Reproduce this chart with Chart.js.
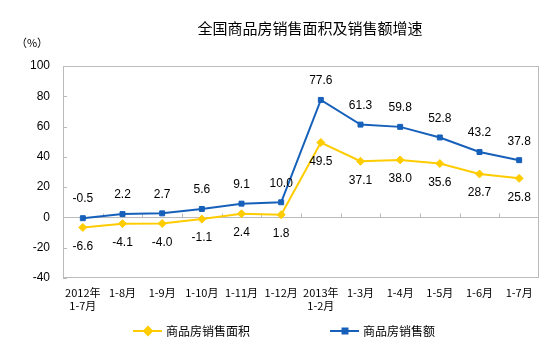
<!DOCTYPE html>
<html>
<head>
<meta charset="utf-8">
<script src="https://cdn.jsdelivr.net/npm/chart.js@4.4.0/dist/chart.umd.min.js"></script>
<style>
  html, body { margin: 0; padding: 0; background: #fff; }
  #wrap { width: 560px; height: 352px; }
</style>
</head>
<body>
<div id="wrap"><canvas id="salesChart"></canvas></div>
<script>
const categories = [["2012年", "1-7月"], "1-8月", "1-9月", "1-10月", "1-11月", "1-12月",
    ["2013年", "1-2月"], "1-3月", "1-4月", "1-5月", "1-6月", "1-7月"];
const areaGrowth = [-6.6, -4.1, -4.0, -1.1, 2.4, 1.8, 49.5, 37.1, 38.0, 35.6, 28.7, 25.8];
const salesGrowth = [-0.5, 2.2, 2.7, 5.6, 9.1, 10.0, 77.6, 61.3, 59.8, 52.8, 43.2, 37.8];
const yTicks = [-40, -20, 0, 20, 40, 60, 80, 100];
const seriesNames = ["商品房销售面积", "商品房销售额"];

const YELLOW = "#FFCC00";
const BLUE = "#1660BA";
const GREY = "#BBBBBB";
const CJK = '"Noto Sans CJK SC", sans-serif';
const NUM = '"Liberation Sans", Arial, sans-serif';

// point labels, title, box and legend
const decorations = {
    id: "decorations",
    beforeDatasetsDraw(chart) {
        const ctx = chart.ctx;
        const area = chart.chartArea;
        const x = chart.scales.x;
        const y = chart.scales.y;
        ctx.save();
        ctx.strokeStyle = GREY;
        ctx.lineWidth = 1;
        ctx.strokeRect(Math.round(area.left) + 0.5, Math.round(area.top) + 0.5,
            Math.round(area.width) - 1, Math.round(area.height) - 1);
        // zero line with ticks at category boundaries
        const zy = Math.round(y.getPixelForValue(0)) + 0.5;
        ctx.beginPath();
        ctx.moveTo(area.left, zy);
        ctx.lineTo(area.right, zy);
        for (let i = 0; i < categories.length; i++) {
            const tx = Math.round(x.getPixelForValue(i - 0.5)) + 0.5;
            ctx.moveTo(tx, zy);
            ctx.lineTo(tx, zy - 4);
        }
        // small inside ticks on the value axis
        yTicks.forEach(v => {
            const ty = Math.round(y.getPixelForValue(v)) + 0.5;
            ctx.moveTo(area.left, ty);
            ctx.lineTo(area.left + 4, ty);
        });
        ctx.stroke();
        ctx.restore();
    },
    afterDatasetsDraw(chart) {
        const ctx = chart.ctx;
        ctx.save();
        ctx.font = "12px " + NUM;
        ctx.fillStyle = "#000";
        ctx.textAlign = "center";
        ctx.textBaseline = "middle";
        chart.data.datasets.forEach((ds, di) => {
            const meta = chart.getDatasetMeta(di);
            meta.data.forEach((pt, i) => {
                const off = di === 1 ? -19 : 19;
                ctx.fillText(ds.data[i].toFixed(1), pt.x, pt.y + off);
            });
        });

        // title and unit
        ctx.font = "15px " + CJK;
        ctx.fillText("全国商品房销售面积及销售额增速", 310, 28);
        ctx.font = "11px " + CJK;
        ctx.fillText("（%）", 32, 43);

        // legend
        const items = [
            { x: 133, color: YELLOW, style: "rectRot", r: 4 },
            { x: 330, color: BLUE, style: "rect", r: 3.5 }
        ];
        ctx.font = "12px " + CJK;
        ctx.textAlign = "left";
        items.forEach((it, i) => {
            const ly = 331;
            ctx.strokeStyle = it.color;
            ctx.lineWidth = 2;
            ctx.beginPath();
            ctx.moveTo(it.x, ly);
            ctx.lineTo(it.x + 29, ly);
            ctx.stroke();
            Chart.helpers.drawPoint(ctx, {
                pointStyle: it.style, radius: it.r, borderWidth: 1, rotation: 0
            }, it.x + 15, ly);
            ctx.fillStyle = it.color;
            ctx.fill();
            ctx.fillStyle = "#000";
            ctx.fillText(seriesNames[i], it.x + 33, ly);
        });
        ctx.restore();
    }
};

new Chart(document.getElementById("salesChart"), {
    type: "line",
    data: {
        labels: categories,
        datasets: [
            {
                label: seriesNames[0],
                data: areaGrowth,
                borderColor: YELLOW,
                backgroundColor: YELLOW,
                borderWidth: 2,
                pointStyle: "rectRot",
                pointRadius: 4,
                pointBorderWidth: 1,
                tension: 0
            },
            {
                label: seriesNames[1],
                data: salesGrowth,
                borderColor: BLUE,
                backgroundColor: BLUE,
                borderWidth: 2,
                pointStyle: "rect",
                pointRadius: 3.5,
                pointBorderWidth: 1,
                tension: 0
            }
        ]
    },
    options: {
        responsive: true,
        maintainAspectRatio: false,
        animation: false,
        layout: { padding: { left: 0, right: 21, top: 66, bottom: 0 } },
        plugins: {
            legend: { display: false },
            title: { display: false },
            tooltip: { enabled: false }
        },
        scales: {
            x: {
                offset: true,
                grid: { display: false, drawTicks: false },
                border: { display: false },
                ticks: {
                    padding: 8,
                    color: "#000",
                    font: { family: CJK, size: 11 },
                    maxRotation: 0,
                    autoSkip: false
                },
                afterFit(scale) { scale.height = 74; }
            },
            y: {
                min: -40,
                max: 100,
                grid: { display: false, drawTicks: false },
                border: { display: false },
                ticks: {
                    stepSize: 20,
                    padding: 13,
                    color: "#000",
                    font: { family: NUM, size: 12 }
                },
                afterFit(scale) { scale.width = 63; }
            }
        }
    },
    plugins: [decorations]
});
</script>
</body>
</html>
